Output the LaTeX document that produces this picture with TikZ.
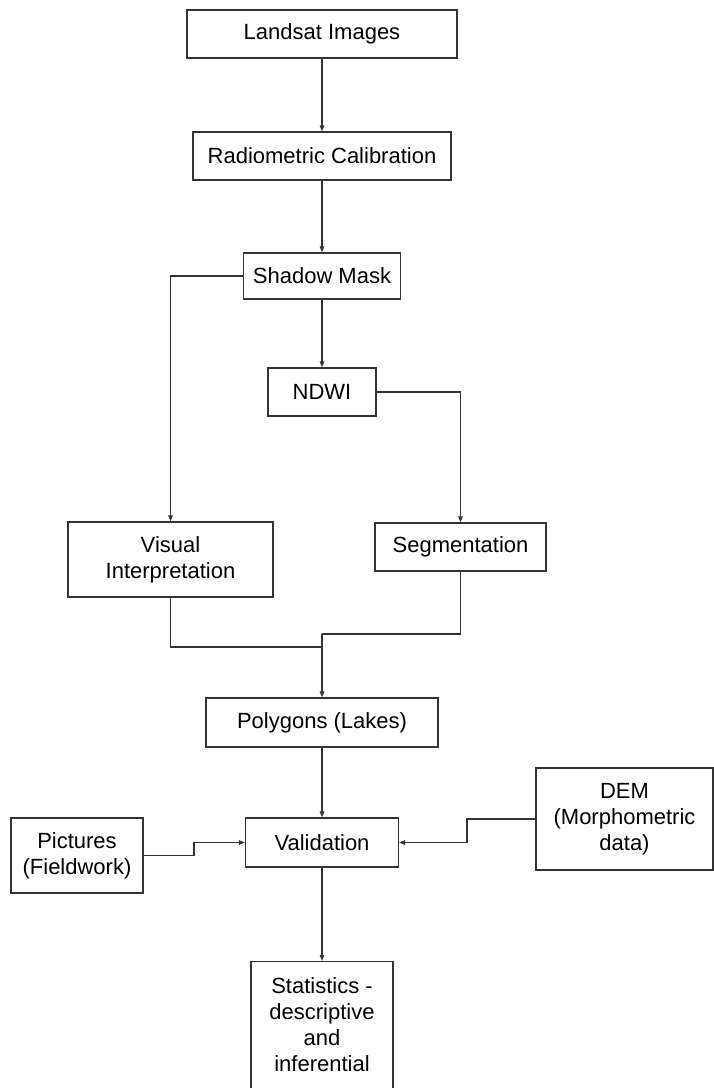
\documentclass[tikz,border=0pt]{standalone}
\usepackage{fontspec}
\setmainfont{Liberation Sans}
\usetikzlibrary{positioning}
\usetikzlibrary{arrows.meta}

\begin{document}
\begin{tikzpicture}[x=1pt, y=-1pt,
    box/.style={draw=black!80, line width=1.2pt, align=center, inner sep=3pt,
        font=\fontsize{22}{26}\selectfont},
    link/.style={draw=black!80, line width=1.1pt},
    arr/.style={link, -{Triangle[length=6pt, width=4.5pt]}}]
    \useasboundingbox[fill=white] (0,0) rectangle (714,1088);
    % boxes
    \node[box, minimum width=270, minimum height=48] (land) at (322,34) {Landsat Images};
    \node[box, minimum width=258, minimum height=48] (radio) at (322,156) {Radiometric Calibration};
    \node[box, minimum width=157, minimum height=46] (shadow) at (322,276) {Shadow Mask};
    \node[box, minimum width=108, minimum height=48] (ndwi) at (322,392) {NDWI};
    \node[box, minimum width=205, minimum height=75] (visual) at (170.5,559.5) {Visual\\Interpretation};
    \node[box, minimum width=171, minimum height=48] (seg) at (460.5,547) {Segmentation};
    \node[box, minimum width=232, minimum height=49] (poly) at (322,722.5) {Polygons (Lakes)};
    \node[box, minimum width=153, minimum height=49] (valid) at (322,842.5) {Validation};
    \node[box, minimum width=132, minimum height=75] (pict) at (77,855.5) {Pictures\\(Fieldwork)};
    \node[box, minimum width=177, minimum height=102] (dem) at (624.5,819) {DEM\\(Morphometric\\data)};
    \node[box, minimum width=142, anchor=north, inner ysep=16pt] (stats) at (322,961)
        {Statistics -\\descriptive\\and\\inferential\\[40pt]\strut};
    % bends
    \coordinate (joinL) at (322,647);
    \coordinate (joinR) at (322,634);
    \coordinate (pbend) at (194,849);
    \coordinate (dbend) at (467,830);
    % connectors
    \draw[arr] (land) -- (radio);
    \draw[arr] (radio) -- (shadow);
    \draw[arr] (shadow) -- (ndwi);
    \draw[arr] (shadow.west) -| (visual.north);
    \draw[arr] (ndwi.east) -| (seg.north);
    \draw[link] (visual.south) |- (joinL);
    \draw[link] (seg.south) |- (joinR);
    \draw[arr] (joinR) -- (poly.north);
    \draw[arr] (poly) -- (valid);
    \draw[arr] (pict.east) -| (pbend) |- (valid.west);
    \draw[arr] (dem.west) -| (dbend) |- (valid.east);
    \draw[arr] (valid) -- (stats);
\end{tikzpicture}
\end{document}
